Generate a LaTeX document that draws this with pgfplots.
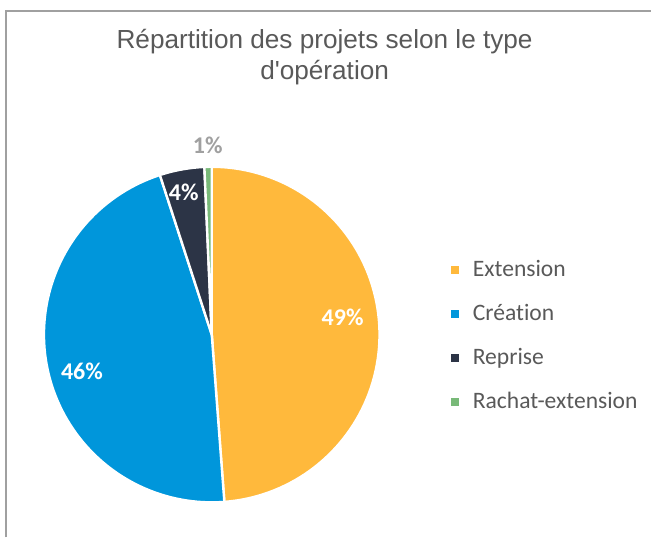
\documentclass[border=0pt]{standalone}
\usepackage{pgfplots}
\pgfplotsset{compat=1.18}
\usepackage{fontspec}
\setmainfont{Liberation Sans}
\newfontfamily\titlefont{Liberation Sans}
\newfontfamily\calib[Ligatures=NoCommon]{Carlito}
\definecolor{cExt}{RGB}{255,185,60}
\definecolor{cCre}{RGB}{0,150,219}
\definecolor{cRep}{RGB}{44,52,70}
\definecolor{cRac}{RGB}{120,185,120}
\definecolor{txtgray}{RGB}{89,89,89}
\definecolor{lblgray}{RGB}{160,160,160}
\definecolor{framegray}{RGB}{160,160,160}
% shares in percent
\def\vExt{48.8}
\def\vCre{46.2}
\def\vRep{4.3}
\def\vRac{0.7}
\begin{document}
\begin{tikzpicture}
\pgfmathsetmacro{\aA}{90}
\pgfmathsetmacro{\aB}{90-3.6*\vExt}
\pgfmathsetmacro{\aC}{\aB-3.6*\vCre}
\pgfmathsetmacro{\aD}{\aC-3.6*\vRep}
\pgfmathsetmacro{\aE}{\aD-3.6*\vRac}
\begin{axis}[at={(0,0)}, anchor=south west, scale only axis,
  width=326pt, height=269pt,
  xmin=0, xmax=652, ymin=0, ymax=538,
  hide axis, clip=false,
  legend style={at={(axis cs:451,282)}, anchor=north west, draw=none, fill=none,
    font=\calib\fontsize{11.8}{13}\selectfont, text=txtgray, row sep=8.5pt, column sep=5pt, inner sep=0pt},
  legend cell align=left,
  legend image code/.code={\fill[#1, draw=none] (0pt,-2pt) rectangle (4pt,2pt);},
]
\addplot[fill=cExt, draw=white, line width=1.2pt, domain=\aB:\aA, samples=90, variable=\t]
  ({212+168*cos(\t)},{203+168*sin(\t)}) -- (axis cs:212,203) -- cycle;
\addlegendentry{Extension}
\addplot[fill=cCre, draw=white, line width=1.2pt, domain=\aC:\aB, samples=90, variable=\t]
  ({212+168*cos(\t)},{203+168*sin(\t)}) -- (axis cs:212,203) -- cycle;
\addlegendentry{Création}
\addplot[fill=cRep, draw=white, line width=1.2pt, domain=\aD:\aC, samples=20, variable=\t]
  ({212+168*cos(\t)},{203+168*sin(\t)}) -- (axis cs:212,203) -- cycle;
\addlegendentry{Reprise}
\addplot[fill=cRac, draw=white, line width=1.2pt, domain=\aE:\aD, samples=10, variable=\t]
  ({212+168*cos(\t)},{203+168*sin(\t)}) -- (axis cs:212,203) -- cycle;
\addlegendentry{Rachat-extension}
\node[font=\calib\bfseries\fontsize{12}{14}\selectfont, text=white] at (axis cs:343,220) {49\%};
\node[font=\calib\bfseries\fontsize{12}{14}\selectfont, text=white] at (axis cs:82,166) {46\%};
\node[font=\calib\bfseries\fontsize{12}{14}\selectfont, text=white] at (axis cs:184,345) {4\%};
\node[font=\calib\bfseries\fontsize{12}{14}\selectfont, text=lblgray] at (axis cs:208,392) {1\%};
\node[align=center, font=\titlefont\fontsize{13.1}{15.5}\selectfont, text=txtgray] at (axis cs:325,481)
  {Répartition des projets selon le type\\d'opération};
\draw[framegray, line width=0.8pt] (axis cs:6,0) -- (axis cs:6,527) -- (axis cs:652,527);
\end{axis}
\path (0,0) (326pt,269pt);
\end{tikzpicture}
\end{document}
